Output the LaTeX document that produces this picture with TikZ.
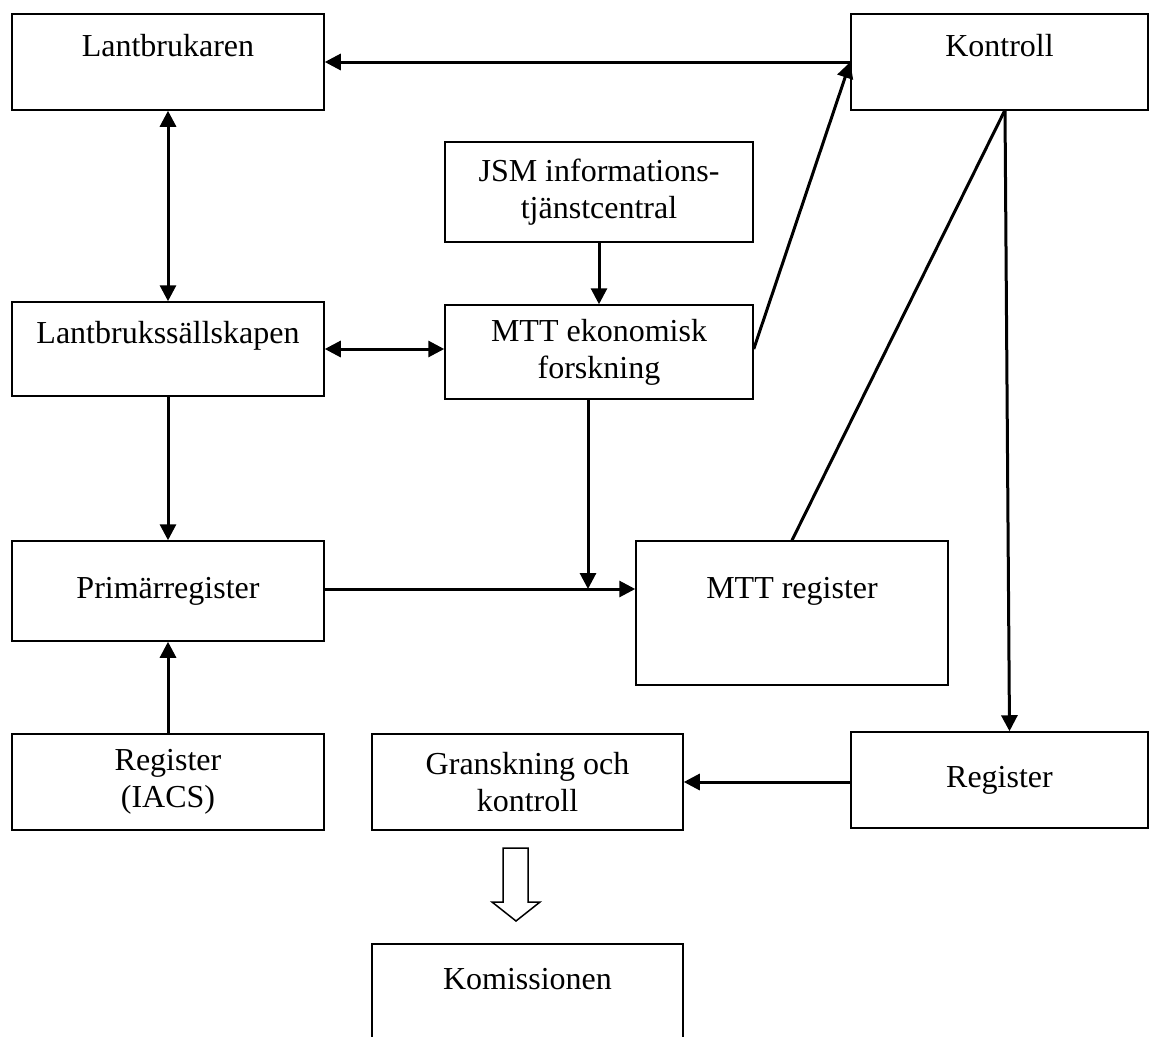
\documentclass[tikz,border=0pt]{standalone}
\usepackage{fontspec}
\setmainfont{Liberation Serif}
\usetikzlibrary{arrows.meta}
\begin{document}
\begin{tikzpicture}[x=1pt, y=-1pt,
  font=\fontsize{32}{37}\selectfont,
  box/.style={draw, line width=1.5pt, align=center, inner sep=0pt,
    minimum width=#1},
  box/.default=312,
  arr/.style={line width=3pt, -{Triangle[length=16pt,width=16pt]}},
  arrs/.style={line width=3pt, {Triangle[length=16pt,width=16pt]}-{Triangle[length=16pt,width=16pt]}},
  up/.style={text depth=#1}]

\useasboundingbox (0,0) rectangle (1159,1036);

% top row
\node[box, minimum height=96, up=34pt] (lant) at (168,62) {Lantbrukaren};
\node[box=297, minimum height=96, up=34pt] (kontroll) at (999.5,62) {Kontroll};
\node[box=308, minimum height=100] (jsm) at (599,192) {JSM informations-\\tjänstcentral};

% second row
\node[box, minimum height=94, up=34pt] (sallsk) at (168,349) {Lantbrukssällskapen};
\node[box=308, minimum height=94] (mttek) at (599,352) {MTT ekonomisk\\forskning};

% third row
\node[box, minimum height=100] (primar) at (168,591) {Primärregister};
\node[box, minimum height=144, up=50pt] (mttreg) at (792,613) {MTT register};

% fourth row
\node[box, minimum height=96] (iacs) at (168,782) {Register\\(IACS)};
\node[box=311, minimum height=96] (gransk) at (527.5,782) {Granskning och\\kontroll};
\node[box=297, minimum height=96] (regr) at (999.5,780) {Register};

\node[box=311, minimum height=140, up=70pt] (kom) at (527.5,1014) {Komissionen};

\coordinate (kb) at (1005,110);
\coordinate (join) at (588,589);

\draw[arr] (kontroll.west) -- (lant.east);
\draw[arrs] (lant) -- (sallsk);
\draw[arr] (jsm) -- (mttek);
\draw[arrs] (sallsk) -- (mttek.west |- sallsk);
\draw[arr] (mttek.east |- sallsk) -- (kontroll.west);
\draw[line width=3pt] (mttreg.north) -- (kb);
\draw[arr] (kb) -- ([xshift=10pt]regr.north);
\draw[arr] (sallsk) -- (primar);
\draw[arr] (mttek.south -| join) -- (join);
\draw[arr] (primar.east |- join) -- (mttreg.west |- join);
\draw[arr] (iacs) -- (primar);
\draw[arr] (regr.west |- gransk) -- (gransk);

% hollow arrow down
\draw[line width=1.5pt] (503,848) -- (528,848) -- (528,902) -- (540,902)
  -- (516,921) -- (492,902) -- (503,902) -- cycle;
\end{tikzpicture}
\end{document}
